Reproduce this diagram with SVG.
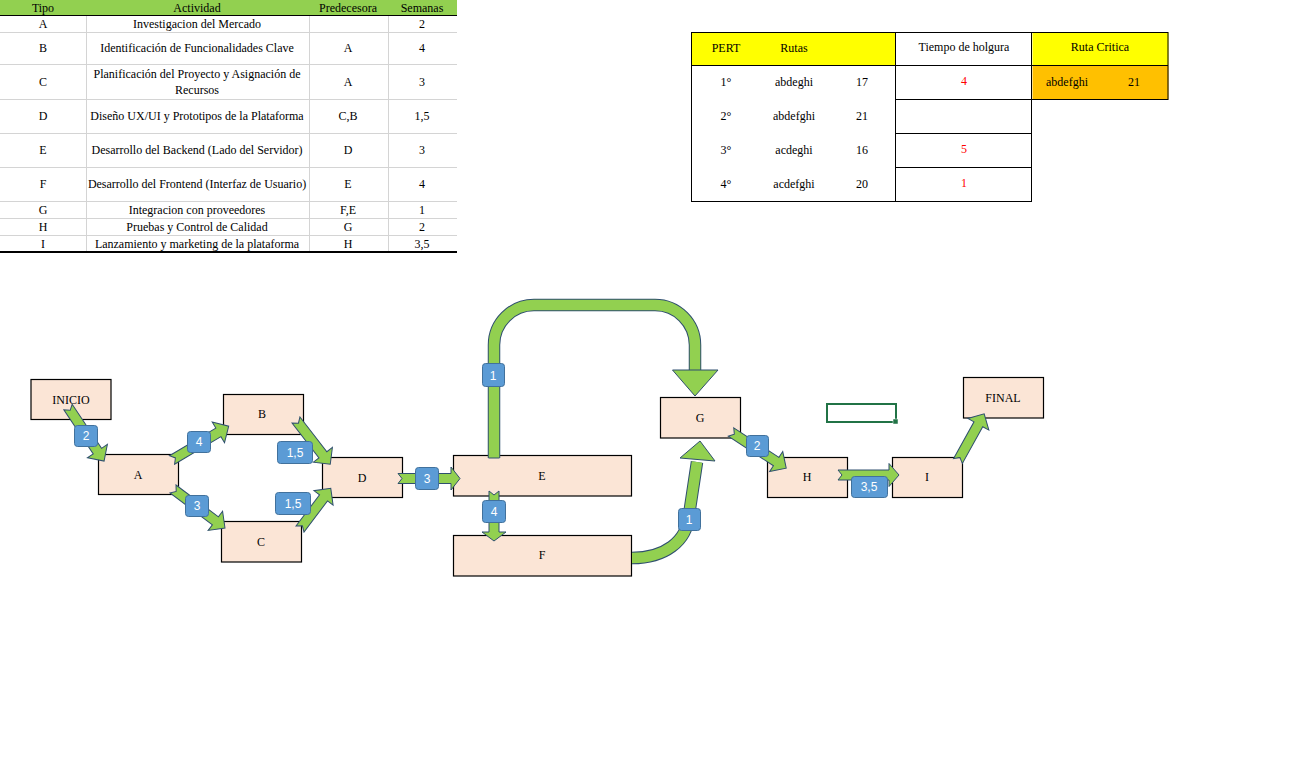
<svg xmlns="http://www.w3.org/2000/svg" width="1301" height="761" viewBox="0 0 1301 761">
<style>
.t{font-family:"Liberation Serif","Times New Roman",serif;font-size:12px;fill:#000;text-anchor:middle}
.tl{font-family:"Liberation Serif","Times New Roman",serif;font-size:12px;fill:#000}
.red{fill:#FF0000}
.g{stroke:#D4D4D4;stroke-width:1;fill:none}
.b{stroke:#000;stroke-width:1;fill:none}
.node rect{fill:#FBE5D6;stroke:#000;stroke-width:1.2}
.arr{fill:#92D050;stroke:#2F4F6F;stroke-width:1}
.lbl rect{fill:#5B9BD5;stroke:#41719C;stroke-width:1}
.lbl text{font-family:"Liberation Sans",Arial,sans-serif;font-size:12px;fill:#fff;text-anchor:middle}
</style>
<rect width="1301" height="761" fill="#fff"/>

<!-- Table 1 -->
<g id="table1">
<rect x="0" y="0" width="457" height="15.5" fill="#92D050"/>
<line class="b" x1="0" y1="15.5" x2="457" y2="15.5"/>
<g class="g">
<line x1="86.5" y1="16" x2="86.5" y2="252"/>
<line x1="309.5" y1="16" x2="309.5" y2="252"/>
<line x1="388.5" y1="16" x2="388.5" y2="252"/>
<line x1="0" y1="32.5" x2="457" y2="32.5"/>
<line x1="0" y1="64.5" x2="457" y2="64.5"/>
<line x1="0" y1="99.5" x2="457" y2="99.5"/>
<line x1="0" y1="133.5" x2="457" y2="133.5"/>
<line x1="0" y1="167.5" x2="457" y2="167.5"/>
<line x1="0" y1="201.5" x2="457" y2="201.5"/>
<line x1="0" y1="218.5" x2="457" y2="218.5"/>
<line x1="0" y1="235.5" x2="457" y2="235.5"/>
</g>
<line x1="0" y1="252" x2="457" y2="252" stroke="#000" stroke-width="2"/>
<text class="t" x="43" y="12">Tipo</text>
<text class="t" x="197" y="12">Actividad</text>
<text class="t" x="348" y="12">Predecesora</text>
<text class="t" x="422" y="12">Semanas</text>

<text class="t" x="43" y="28">A</text>
<text class="t" x="197" y="28">Investigacion del Mercado</text>
<text class="t" x="422" y="28">2</text>

<text class="t" x="43" y="52">B</text>
<text class="t" x="197" y="52">Identificación de Funcionalidades Clave</text>
<text class="t" x="348" y="52">A</text>
<text class="t" x="422" y="52">4</text>

<text class="t" x="43" y="86">C</text>
<text class="t" x="197" y="78">Planificación del Proyecto y Asignación de</text>
<text class="t" x="197" y="94">Recursos</text>
<text class="t" x="348" y="86">A</text>
<text class="t" x="422" y="86">3</text>

<text class="t" x="43" y="120">D</text>
<text class="t" x="197" y="120">Diseño UX/UI y Prototipos de la Plataforma</text>
<text class="t" x="348" y="120">C,B</text>
<text class="t" x="422" y="120">1,5</text>

<text class="t" x="43" y="154">E</text>
<text class="t" x="197" y="154">Desarrollo del Backend (Lado del Servidor)</text>
<text class="t" x="348" y="154">D</text>
<text class="t" x="422" y="154">3</text>

<text class="t" x="43" y="188">F</text>
<text class="t" x="197" y="188">Desarrollo del Frontend (Interfaz de Usuario)</text>
<text class="t" x="348" y="188">E</text>
<text class="t" x="422" y="188">4</text>

<text class="t" x="43" y="214">G</text>
<text class="t" x="197" y="214">Integracion con proveedores</text>
<text class="t" x="348" y="214">F,E</text>
<text class="t" x="422" y="214">1</text>

<text class="t" x="43" y="231">H</text>
<text class="t" x="197" y="231">Pruebas y Control de Calidad</text>
<text class="t" x="348" y="231">G</text>
<text class="t" x="422" y="231">2</text>

<text class="t" x="43" y="248">I</text>
<text class="t" x="197" y="248">Lanzamiento y marketing de la plataforma</text>
<text class="t" x="348" y="248">H</text>
<text class="t" x="422" y="248">3,5</text>
</g>

<!-- Table 2 -->
<g id="table2">
<rect x="691.5" y="32.5" width="204" height="33" fill="#FFFF00"/>
<rect x="1032.5" y="32.5" width="136" height="33" fill="#FFFF00"/>
<rect x="1032.5" y="65.5" width="136" height="34" fill="#FFC000"/>
<g class="b">
<rect x="691.5" y="32.5" width="340" height="169"/>
<rect x="1031.5" y="32.5" width="136.5" height="67"/>
<line x1="895.5" y1="32.5" x2="895.5" y2="201.5"/>
<line x1="691.5" y1="65.5" x2="1168" y2="65.5"/>
<line x1="895.5" y1="99.5" x2="1031.5" y2="99.5"/>
<line x1="895.5" y1="133.5" x2="1031.5" y2="133.5"/>
<line x1="895.5" y1="167.5" x2="1031.5" y2="167.5"/>
</g>
<text class="t" x="726" y="52">PERT</text>
<text class="t" x="794" y="52">Rutas</text>
<text class="t" x="964" y="51">Tiempo de holgura</text>
<text class="t" x="1100" y="51">Ruta Critica</text>

<text class="t" x="726" y="86">1°</text>
<text class="t" x="794" y="86">abdeghi</text>
<text class="t" x="862" y="86">17</text>
<text class="t red" x="964" y="85">4</text>
<text class="tl" x="1046" y="86">abdefghi</text>
<text class="t" x="1134" y="86">21</text>

<text class="t" x="726" y="120">2°</text>
<text class="t" x="794" y="120">abdefghi</text>
<text class="t" x="862" y="120">21</text>

<text class="t" x="726" y="154">3°</text>
<text class="t" x="794" y="154">acdeghi</text>
<text class="t" x="862" y="154">16</text>
<text class="t red" x="964" y="153">5</text>

<text class="t" x="726" y="188">4°</text>
<text class="t" x="794" y="188">acdefghi</text>
<text class="t" x="862" y="188">20</text>
<text class="t red" x="964" y="187">1</text>
</g>

<!-- Cell selection -->
<g id="selection">
<rect x="827" y="404" width="69" height="18" fill="none" stroke="#217346" stroke-width="2"/>
<rect x="893" y="419" width="5" height="5" fill="#217346" stroke="#fff" stroke-width="0.5"/>
</g>

<!-- Nodes -->
<g id="node-inicio" class="node"><rect x="31" y="379.5" width="80" height="40"/><text class="t" x="71" y="404">INICIO</text></g>
<g id="node-a" class="node"><rect x="98.5" y="454.5" width="80" height="40"/><text class="t" x="138" y="479">A</text></g>
<g id="node-b" class="node"><rect x="223.5" y="394.5" width="80" height="40"/><text class="t" x="262" y="418">B</text></g>
<g id="node-c" class="node"><rect x="221.5" y="521.5" width="80" height="40.5"/><text class="t" x="261" y="546">C</text></g>
<g id="node-d" class="node"><rect x="322.5" y="457.5" width="80" height="40"/><text class="t" x="362" y="482">D</text></g>
<g id="node-e" class="node"><rect x="453.5" y="455.5" width="178" height="40.5"/><text class="t" x="542" y="480">E</text></g>
<g id="node-f" class="node"><rect x="453.5" y="535.5" width="178" height="40.5"/><text class="t" x="542" y="559">F</text></g>
<g id="node-g" class="node"><rect x="660.5" y="397.5" width="80" height="40.5"/><text class="t" x="700" y="422">G</text></g>
<g id="node-h" class="node"><rect x="767.5" y="457.5" width="80" height="40"/><text class="t" x="807" y="481">H</text></g>
<g id="node-i" class="node"><rect x="892.5" y="457.5" width="70" height="40"/><text class="t" x="927" y="481">I</text></g>
<g id="node-final" class="node"><rect x="963.5" y="377.5" width="80" height="40.5"/><text class="t" x="1003" y="402">FINAL</text></g>

<!-- Connectors -->
<g id="connectors">
<polygon class="arr" transform="translate(68,407) rotate(56.3)" points="0,-5 53,-5 53,-12 65,0 53,12 53,5 0,5 4,0"/>
<polygon class="arr" transform="translate(172,460) rotate(-30.8)" points="0,-5 54,-5 54,-12 66,0 54,12 54,5 0,5 4,0"/>
<polygon class="arr" transform="translate(173,489) rotate(36.9)" points="0,-5 53,-5 53,-12 65,0 53,12 53,5 0,5 4,0"/>
<polygon class="arr" transform="translate(296,420) rotate(52.3)" points="0,-5 44,-5 44,-12 56,0 44,12 44,5 0,5 4,0"/>
<polygon class="arr" transform="translate(300,529) rotate(-52.9)" points="0,-5 39,-5 39,-12 51,0 39,12 39,5 0,5 4,0"/>
<polygon class="arr" transform="translate(398,478.5) rotate(0)" points="0,-5 53,-5 53,-11.5 62,0 53,11.5 53,5 0,5 4,0"/>
<polygon class="arr" transform="translate(494,491) rotate(90)" points="0,-5 41,-5 41,-12 50,0 41,12 41,5 0,5 4,0"/>
<path d="M494,458 L494,345 A40,40 0 0 1 534,305 L655,305 A40,40 0 0 1 695,345 L695,372" fill="none" stroke="#2F4F6F" stroke-width="12.5"/>
<path d="M494,458 L494,345 A40,40 0 0 1 534,305 L655,305 A40,40 0 0 1 695,345 L695,372" fill="none" stroke="#92D050" stroke-width="10.5"/>
<line x1="488.5" y1="458" x2="499.5" y2="458" stroke="#2F4F6F" stroke-width="1"/>
<polygon class="arr" points="672.5,370 718,370 695,396"/>
<path d="M632,558 C664,558 687,542 689,515 L697,462" fill="none" stroke="#2F4F6F" stroke-width="12.5"/>
<path d="M632,558 C664,558 687,542 689,515 L697,462" fill="none" stroke="#92D050" stroke-width="10.5"/>
<polygon class="arr" points="680,458 715,461 700,441"/>
<polygon class="arr" transform="translate(731,432) rotate(33.2)" points="0,-5 54,-5 54,-12 66,0 54,12 54,5 0,5 4,0"/>
<polygon class="arr" transform="translate(838,475) rotate(0)" points="0,-5 51,-5 51,-11.5 61,0 51,11.5 51,5 0,5 4,0"/>
<polygon class="arr" transform="translate(958,461) rotate(-61)" points="0,-5 42,-5 42,-12 54,0 42,12 42,5 0,5 4,0"/>

<g class="lbl">
<rect x="74.5" y="425.5" width="23" height="21" rx="3"/><text x="86" y="440">2</text>
<rect x="187.5" y="431.5" width="23" height="21" rx="3"/><text x="199" y="446">4</text>
<rect x="185.5" y="495.5" width="23" height="21" rx="3"/><text x="197" y="510">3</text>
<rect x="277.5" y="441.5" width="35" height="22" rx="3"/><text x="295" y="457">1,5</text>
<rect x="275.5" y="492.5" width="35" height="22" rx="3"/><text x="293" y="508">1,5</text>
<rect x="415.5" y="467.5" width="23" height="22" rx="3"/><text x="427" y="483">3</text>
<rect x="482.5" y="363.5" width="22" height="23" rx="3"/><text x="493" y="380">1</text>
<rect x="482.5" y="500.5" width="23" height="22" rx="3"/><text x="494" y="516">4</text>
<rect x="678.5" y="508.5" width="22" height="22" rx="3"/><text x="689" y="524">1</text>
<rect x="746.5" y="435.5" width="22" height="21" rx="3"/><text x="757" y="450">2</text>
<rect x="851.5" y="476.5" width="36" height="21" rx="3"/><text x="869" y="491">3,5</text>
</g>
</g>
</svg>
